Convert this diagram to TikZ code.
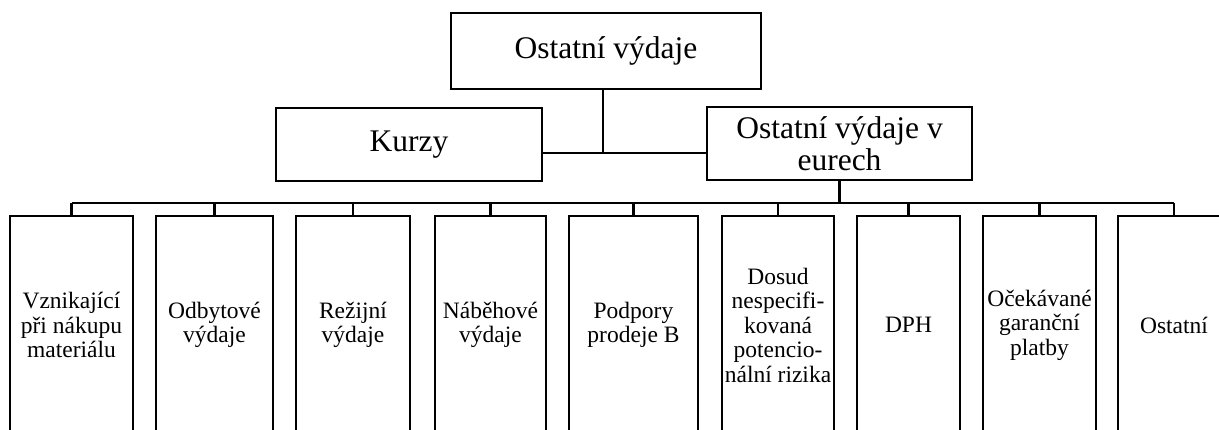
\documentclass[tikz,border=0pt]{standalone}
\usepackage{fontspec}
\setmainfont{Liberation Serif}
\begin{document}
\begin{tikzpicture}[x=1pt,y=-1pt,
  box/.style={draw,line width=2.4pt,rectangle,inner sep=0pt,align=center},
  topbox/.style={box,font=\fontsize{31.5}{32}\selectfont},
  leaf/.style={box,minimum height=218pt,font=\fontsize{23.5}{24.5}\selectfont},
  conn/.style={line width=2.4pt}]
\clip (0,0) rectangle (1219,430);
\fill[white] (0,0) rectangle (1219,430);
\node[topbox,minimum width=310pt,minimum height=76pt] (top) at (606,51) {Ostatní výdaje};
\node[topbox,minimum width=266pt,minimum height=73pt] (kurzy) at (409,144.5) {Kurzy};
\node[topbox,minimum width=265pt,minimum height=73pt] (eur) at (839.5,143.5) {Ostatní výdaje v\\eurech};
\coordinate (j) at (603,153);
\coordinate (bus) at (0,203);
\node[leaf,minimum width=123pt] (c1) at (71.5,325) {Vznikající\\při nákupu\\materiálu};
\node[leaf,minimum width=117pt] (c2) at (214.5,325) {Odbytové\\výdaje};
\node[leaf,minimum width=114pt] (c3) at (353,325) {Režijní\\výdaje};
\node[leaf,minimum width=111pt] (c4) at (490.5,325) {Náběhové\\výdaje};
\node[leaf,minimum width=129pt] (c5) at (633.5,325) {Podpory\\prodeje B};
\node[leaf,minimum width=112pt] (c6) at (778,325) {Dosud\\nespecifi-\\kovaná\\potencio-\\nální rizika};
\node[leaf,minimum width=103pt] (c7) at (908.5,325) {DPH};
\node[leaf,minimum width=113pt] (c8) at (1039.5,325) {Očekávané\\garanční\\platby};
\node[leaf,minimum width=112pt] (c9) at (1174,325) {Ostatní};
\draw[conn] (top.south -| j) -- (j);
\draw[conn] (kurzy.east |- j) -- (eur.west |- j);
\draw[conn] (eur.south) -- (eur.south |- bus);
\draw[conn] (c1.north |- bus) -- (c9.north |- bus);
\foreach \i in {1,...,9}{\draw[conn] (c\i.north) -- (c\i.north |- bus);}
\end{tikzpicture}
\end{document}
